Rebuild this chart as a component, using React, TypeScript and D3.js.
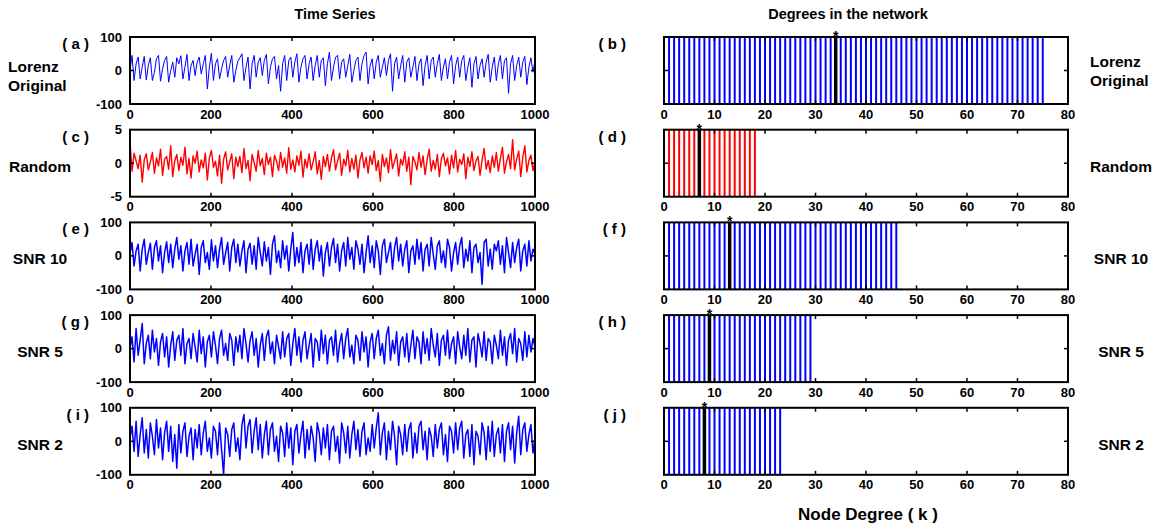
import React, { useEffect, useRef } from "react";
import * as d3 from "d3";

const width = 1163;
const height = 531;

// row names and panel letters
const rowNames = [["Lorenz", "Original"], ["Random"], ["SNR 10"], ["SNR 5"], ["SNR 2"]];
const leftLetters = ["a", "c", "e", "g", "i"];
const rightLetters = ["b", "d", "f", "h", "j"];

const lorenzOriginal = [
  0, 45, -30, 20, 40, -25, 10, 42, -28, 15, 38, -30, -5, 35, 45, -32, 5, 30, 42, -35,
  0, 25, -20, 38, 20, 44, -25, 10, 48, -30, 15, 30, -15, 25, 40, -10, 20, 45, -55, 10,
  52, -30, 20, 35, -25, 5, 30, 42, -20, 15, 45, -35, 0, 28, 38, 50, -30, 10, 40, -55,
  20, 45, -20, 25, 38, -15, 30, 48, -40, 10, 35, 42, -25, 15, -62, 20, 45, -30, 30, 40,
  -20, 25, 50, -35, 10, 35, 45, -25, 20, 40, -30, 15, 45, -20, 30, 38, -45, 20, 55, -30,
  10, 40, 45, -25, 25, 35, -20, 15, 48, -35, 0, 30, 40, -30, 20, 45, 55, -40, 15, 35,
  -25, 25, 45, -20, 10, 38, -15, 30, 50, -62, 20, 40, -25, 15, 45, -35, 25, 38, -20, 10,
  42, -30, 20, 35, -45, 15, 45, -25, 30, 40, -20, 20, 48, -30, 10, 35, -25, 25, 45, -40,
  15, 40, -20, 30, 45, -30, 10, 38, -50, 20, 42, -25, 15, 35, -20, 25, 48, -35, 10, 40,
  -30, 20, 45, -25, 30, 38, -68, 20, 45, -30, 15, 40, -20, 25, 42, -42, 10, 38, -5, 30,
];

const randomSeries = [
  3.2, -1.2, 1.5, 0.3, -0.8, 1.2, -2.8, 0.5, 1.4, -1.0, 0.2, 1.6, -1.5, 0.8, -0.4, 2.1, -1.8, 0.6, 1.0, -0.9,
  2.6, -2.0, 0.4, 1.3, -1.1, 0.9, -0.3, 2.4, -1.6, 0.7, -2.2, 1.1, 0.0, 1.8, -1.3, 0.5, -0.7, 1.5, -2.5, 0.8,
  1.9, -0.6, 0.3, -1.9, 1.2, -3.0, 0.6, 1.7, -1.0, 0.2, 1.4, -2.3, 0.9, -0.5, 1.0, -1.4, 2.2, -0.8, 0.4, -2.6,
  1.3, 0.1, -1.2, 1.9, -0.4, 0.7, -1.7, 1.5, -0.2, 0.9, -2.0, 1.2, 0.3, -1.1, 1.6, -0.6, 0.8, -1.5, 2.3, -0.9,
  0.5, -1.3, 1.1, -0.3, 1.8, -2.1, 0.6, -0.7, 1.4, -1.0, 0.2, 1.7, -1.6, 0.4, -2.4, 1.0, -0.5, 1.3, -1.2, 0.8,
  2.0, -1.0, 0.3, 1.5, -1.8, 0.6, -0.4, 1.9, -1.3, 0.7, -0.9, 1.2, -2.2, 0.5, 1.6, -0.7, 0.9, -1.5, 1.1, -0.2,
  1.8, -1.1, 0.4, -2.7, 1.3, -0.5, 0.8, -1.4, 2.0, -0.8, 0.3, 1.4, -1.9, 0.6, -0.3, 1.7, -1.2, 0.9, -3.2, 1.0,
  0.2, -1.0, 1.6, -0.6, 1.1, -1.7, 0.5, 2.1, -1.2, 0.4, -0.9, 1.3, -2.0, 0.7, 1.5, -0.4, 0.8, -1.6, 1.2, -0.7,
  1.9, -1.3, 0.6, -0.2, 1.4, -2.3, 0.9, -0.5, 1.7, -1.1, 0.3, 1.0, -1.8, 0.5, 2.2, -0.9, 0.4, -1.4, 1.1, -0.6,
  1.6, -1.2, 0.7, 2.4, -1.5, 0.2, 1.3, -0.8, 3.5, -1.0, 0.6, 1.8, -2.0, 0.9, 2.6, -1.3, 0.4, 1.2, -1.1, 0.3,
];

const snr10 = [
  5, 40, -30, 15, 35, -45, 20, 50, -25, 10, 38, -40, 25, 45, -15, 30, -50, 10, 42, -20,
  35, -35, 20, 55, -10, 30, -45, 15, 40, -25, 50, -30, 5, 35, -55, 25, 45, -20, 10, -40,
  48, -15, 30, -35, 20, 55, -25, 10, 40, -45, 25, 50, -20, 35, -30, 15, 45, -50, 20, 38,
  -25, 30, -40, 55, 10, -30, 42, -15, 25, -55, 35, 60, -20, 15, -35, 45, -10, 30, -45, 20,
  70, -30, 25, -20, 40, -50, 15, 35, -25, 50, -40, 20, 45, -15, 30, -60, 10, 40, -30, 25,
  52, -20, 35, -45, 15, 40, -30, 55, -10, 25, -40, 45, 20, -25, 35, -50, 10, 60, -20, 30,
  -35, 45, 15, -55, 30, 50, -20, 10, 40, -40, 25, 55, -15, 35, -30, 20, 45, -50, 15, 30,
  -25, 50, -10, 40, -45, 20, 35, -30, 55, 5, -40, 30, 45, -20, 15, -35, 50, 25, -45, 10,
  40, -25, 30, 55, -35, 20, -15, 45, -50, 25, 35, -20, 10, -85, 40, 50, -30, 20, -40, 35,
  15, 45, -25, 30, -50, 55, 10, -35, 40, -20, 25, 50, -45, 15, 35, -30, 45, -15, 20, 5,
];

const snr5 = [
  0, 35, -40, 60, -20, 25, 75, -45, 15, 40, -30, 55, -10, 30, -50, 20, 45, -25, 35, -55,
  10, 50, -35, 25, 40, -20, 60, -45, 15, 30, -30, 45, 5, -40, 55, -15, 35, -55, 20, 40,
  -25, 50, 10, -45, 30, 55, -20, 15, -35, 45, 25, -50, 35, -10, 40, -30, 60, 15, -40, 25,
  50, -20, 30, -55, 10, 45, -35, 35, 55, -15, 20, -45, 40, 5, -30, 50, -25, 30, 45, -50,
  15, 60, -20, 35, -40, 25, 50, -30, 10, 45, -55, 30, 20, -35, 55, -15, 40, -45, 25, 35,
  -20, 55, -40, 15, 45, -30, 30, 60, -25, 10, -45, 40, 25, -35, 50, -10, 35, -55, 20, 45,
  -30, 30, 55, -20, 15, -45, 40, 65, -35, 25, -15, 50, -50, 20, 35, -25, 45, -40, 10, 55,
  -30, 35, 20, -45, 50, -15, 30, -35, 60, 10, -25, 45, -50, 25, 40, -20, 55, -30, 15, 35,
  -45, 50, 5, -30, 40, -20, 60, -40, 25, 35, -55, 45, 15, -25, 50, -35, 30, 20, -45, 40,
  10, -30, 55, -20, 35, -50, 25, 45, -15, 60, -40, 30, 15, -35, 50, -25, 40, -10, 30, 5,
];

const snr2 = [
  10, 45, -30, 60, -45, 20, 70, -35, 35, -50, 55, 15, -40, 65, -20, 40, -55, 25, 60, -30,
  45, -60, 20, -80, 50, -35, 30, 55, -45, 15, 40, -55, 35, -20, 50, -40, 25, 60, -30, 10,
  -50, 45, 30, -40, 55, -25, -100, 40, 20, -45, 35, 55, -30, 10, -55, 50, 80, -20, 45, 65,
  -35, 30, 70, -25, 50, -50, 20, 60, -40, 35, 55, -30, 15, -60, 45, 25, -45, 55, -20, 40,
  -70, 30, 50, -35, 20, 60, -50, 35, -25, 45, 10, -60, 55, 25, -40, 40, -20, 50, -55, 30,
  45, -30, 15, -65, 55, 25, -35, 45, -50, 20, 60, -25, 35, -45, 30, 55, -40, 10, -30, 50,
  -20, 40, 85, -40, 25, 55, -55, 30, -25, 60, 15, -70, 45, 20, -40, 50, -30, 35, 55, -50,
  25, -35, 45, 60, -25, 30, -55, 40, 15, -45, 50, -20, 35, 55, -40, 20, -60, 45, 30, -35,
  55, -25, 40, 60, -50, 20, 35, -45, 50, -70, 30, 15, -40, 55, 25, -55, 45, -30, 60, -45,
  20, 40, -35, 50, -60, 30, 55, -25, 45, -65, 25, 75, -40, 35, 55, -30, 20, 50, -35, 10,
];

const seriesList = [lorenzOriginal, randomSeries, snr10, snr5, snr2];
const seriesLimits = [100, 5, 100, 100, 100];
const seriesColors = ["#0000ff", "#ff0000", "#0000ff", "#0000ff", "#0000ff"];
const seriesWidths = [1, 1.4, 1.5, 1.5, 1.5];

// node degrees: largest degree present and the most frequent degree (*)
const maxDegree = [75, 18, 46, 29, 23];
const modeDegree = [34, 7, 13, 9, 8];

const timeTicks = [0, 200, 400, 600, 800, 1000];
const degreeTicks = [0, 10, 20, 30, 40, 50, 60, 70, 80];

const leftPanel = { x0: 130, x1: 535 };
const rightPanel = { x0: 664, x1: 1068 };
const rowTop = (i: number) => 37 + i * 92.7;
const rowH = 67;
const font = "Arial, 'Liberation Sans', Helvetica, sans-serif";

export default function App() {
  const ref = useRef<SVGSVGElement>(null);

  useEffect(() => {
    const svg = d3.select(ref.current);
    svg.selectAll("*").remove();
    svg.append("rect").attr("width", width).attr("height", height).attr("fill", "#fff");

    const g = svg.append("g").attr("font-family", font).attr("font-weight", "bold");

    g.append("text").attr("x", 335).attr("y", 19).attr("text-anchor", "middle").attr("font-size", 14.5).text("Time Series");
    g.append("text").attr("x", 848).attr("y", 19).attr("text-anchor", "middle").attr("font-size", 14.5).text("Degrees in the network");
    g.append("text").attr("x", 868).attr("y", 520).attr("text-anchor", "middle").attr("font-size", 17).text("Node Degree ( k )");

    const x = d3.scaleLinear().domain([0, 1000]).range([leftPanel.x0, leftPanel.x1]);
    const xk = d3.scaleLinear().domain([0, 80]).range([rightPanel.x0, rightPanel.x1]);

    seriesList.forEach((data, i) => {
      const top = rowTop(i);
      const bottom = top + rowH;
      const lim = seriesLimits[i];
      const y = d3.scaleLinear().domain([-lim, lim]).range([bottom, top]);
      const step = 1000 / (data.length - 1);

      // ---- left: time series ----
      const clipId = `clip-${i}`;
      svg.append("clipPath").attr("id", clipId)
        .append("rect")
        .attr("x", leftPanel.x0).attr("y", top)
        .attr("width", leftPanel.x1 - leftPanel.x0).attr("height", rowH);

      const line = d3.line<number>().x((d, j) => x(j * step)).y(d => y(d));
      g.append("path")
        .datum(data)
        .attr("clip-path", `url(#${clipId})`)
        .attr("fill", "none")
        .attr("stroke", seriesColors[i])
        .attr("stroke-width", seriesWidths[i])
        .attr("stroke-linejoin", "round")
        .attr("d", line);

      // inner ticks
      const lt = g.append("g").attr("stroke", "#000").attr("stroke-width", 1.5);
      timeTicks.slice(1, -1).forEach(t => {
        lt.append("line").attr("x1", x(t)).attr("x2", x(t)).attr("y1", top).attr("y2", top + 4);
        lt.append("line").attr("x1", x(t)).attr("x2", x(t)).attr("y1", bottom).attr("y2", bottom - 4);
      });
      lt.append("line").attr("x1", leftPanel.x0).attr("x2", leftPanel.x0 + 4).attr("y1", y(0)).attr("y2", y(0));
      lt.append("line").attr("x1", leftPanel.x1).attr("x2", leftPanel.x1 - 4).attr("y1", y(0)).attr("y2", y(0));

      g.append("rect")
        .attr("x", leftPanel.x0).attr("y", top)
        .attr("width", leftPanel.x1 - leftPanel.x0).attr("height", rowH)
        .attr("fill", "none").attr("stroke", "#000").attr("stroke-width", 2);

      g.append("g").attr("font-size", 13).attr("text-anchor", "middle")
        .selectAll("text").data(timeTicks).join("text")
        .attr("x", d => x(d)).attr("y", bottom + 14.5).text(d => d);

      g.append("g").attr("font-size", 13).attr("text-anchor", "end")
        .selectAll("text").data([-lim, 0, lim]).join("text")
        .attr("x", leftPanel.x0 - 8).attr("y", d => y(d) + 4.5).text(d => d);

      g.append("text").attr("x", 89).attr("y", top + 12).attr("text-anchor", "end")
        .attr("font-size", 15).text(`( ${leftLetters[i]} )`);

      const names = rowNames[i];
      const nameY = names.length > 1 ? top + 35 : top + 42;
      names.forEach((n, k) => {
        g.append("text").attr("x", names.length > 1 ? 8 : 40).attr("y", nameY + k * 19)
          .attr("text-anchor", names.length > 1 ? "start" : "middle")
          .attr("font-size", 15.5).text(n);
      });

      // ---- right: degrees ----
      const degrees = d3.range(0, maxDegree[i] + 1);
      g.append("g").attr("stroke", seriesColors[i]).attr("stroke-width", 2)
        .selectAll("line").data(degrees.filter(d => d !== modeDegree[i])).join("line")
        .attr("x1", d => xk(d)).attr("x2", d => xk(d))
        .attr("y1", top).attr("y2", bottom);
      g.append("line")
        .attr("x1", xk(modeDegree[i])).attr("x2", xk(modeDegree[i]))
        .attr("y1", top).attr("y2", bottom)
        .attr("stroke", "#000").attr("stroke-width", 3.5);
      g.append("text").attr("x", xk(modeDegree[i])).attr("y", top + 4)
        .attr("text-anchor", "middle").attr("font-size", 14).text("*");

      const rt = g.append("g").attr("stroke", "#000").attr("stroke-width", 1.5);
      degreeTicks.slice(1, -1).forEach(t => {
        rt.append("line").attr("x1", xk(t)).attr("x2", xk(t)).attr("y1", top).attr("y2", top + 4);
        rt.append("line").attr("x1", xk(t)).attr("x2", xk(t)).attr("y1", bottom).attr("y2", bottom - 4);
      });
      const mid = top + rowH / 2;
      rt.append("line").attr("x1", rightPanel.x0).attr("x2", rightPanel.x0 + 4).attr("y1", mid).attr("y2", mid);
      rt.append("line").attr("x1", rightPanel.x1).attr("x2", rightPanel.x1 - 4).attr("y1", mid).attr("y2", mid);

      g.append("rect")
        .attr("x", rightPanel.x0).attr("y", top)
        .attr("width", rightPanel.x1 - rightPanel.x0).attr("height", rowH)
        .attr("fill", "none").attr("stroke", "#000").attr("stroke-width", 2);

      g.append("g").attr("font-size", 13).attr("text-anchor", "middle")
        .selectAll("text").data(degreeTicks).join("text")
        .attr("x", d => xk(d)).attr("y", bottom + 14.5).text(d => d);

      g.append("text").attr("x", 626).attr("y", top + 12).attr("text-anchor", "end")
        .attr("font-size", 15).text(`( ${rightLetters[i]} )`);

      names.forEach((n, k) => {
        g.append("text").attr("x", names.length > 1 ? 1090 : 1121).attr("y", (names.length > 1 ? top + 30 : top + 42) + k * 19)
          .attr("text-anchor", names.length > 1 ? "start" : "middle")
          .attr("font-size", 15.5).text(n);
      });
    });
  }, []);

  return (
    <svg
      ref={ref}
      width={width}
      height={height}
      style={{ position: "absolute", left: 0, top: 0, display: "block" }}
    />
  );
}
